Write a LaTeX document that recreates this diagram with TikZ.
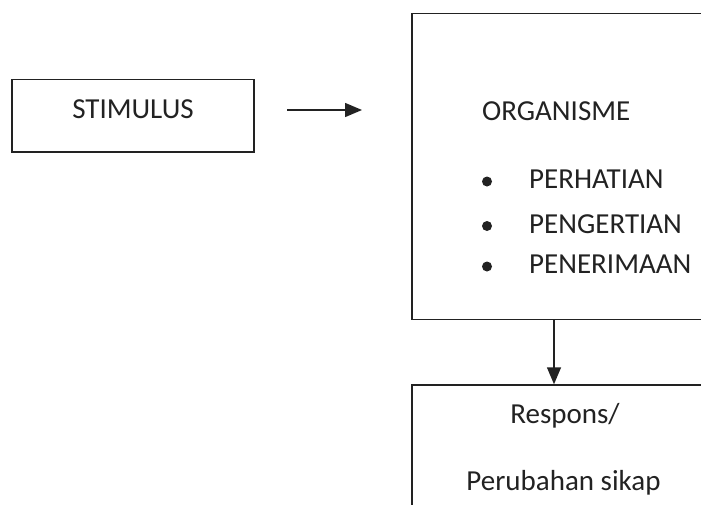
\documentclass[tikz,border=0pt]{standalone}
\usepackage{fontspec}
\setmainfont{Carlito}
\usetikzlibrary{arrows.meta}
\definecolor{ink}{HTML}{222222}
\tikzset{
  boxframe/.style={draw=ink, line width=1.5pt, rectangle, inner sep=0pt},
  lbl/.style={anchor=base, inner sep=0pt, text=ink, font=\fontsize{29}{34}\selectfont},
  conn/.style={draw=ink, line width=1.5pt, -{Triangle[length=17pt,width=14pt]}},
  dot/.style={circle, fill=ink, inner sep=0pt, minimum size=10pt}
}
\begin{document}
\begin{tikzpicture}[x=1pt,y=-1pt]
\useasboundingbox (0,0) rectangle (701,504);
\clip (0,0) rectangle (701,504);
% boxes
\node[boxframe, minimum width=242pt, minimum height=72.5pt] (stim) at (133,115.5) {};
\node[boxframe, minimum width=388pt, minimum height=306pt] (org) at (606,166.4) {};
\node[boxframe, minimum width=388pt, minimum height=240pt] (resp) at (606,505) {};
% texts
\node[lbl] (tstim) at (133,118.3) {STIMULUS};
\node[lbl, anchor=base west] (torg) at (482,120) {ORGANISME};
\node[dot] (b1) at (487,181.5) {};
\node[dot] (b2) at (487,226) {};
\node[dot] (b3) at (487,266.5) {};
\node[lbl, anchor=base west] (t1) at (529,188) {PERHATIAN};
\node[lbl, anchor=base west] (t2) at (529,233) {PENGERTIAN};
\node[lbl, anchor=base west] (t3) at (529,273) {PENERIMAAN};
\node[lbl] (tr1) at (565,423) {Respons/};
\node[lbl] (tr2) at (563.5,490) {Perubahan sikap};
% connectors
\coordinate (a1) at (287,110);
\coordinate (a2) at (362,110);
\coordinate (dx) at (554,0);
\draw[conn] (a1) -- (a2);
\draw[conn] (org.south -| dx) -- (resp.north -| dx);
\end{tikzpicture}
\end{document}
